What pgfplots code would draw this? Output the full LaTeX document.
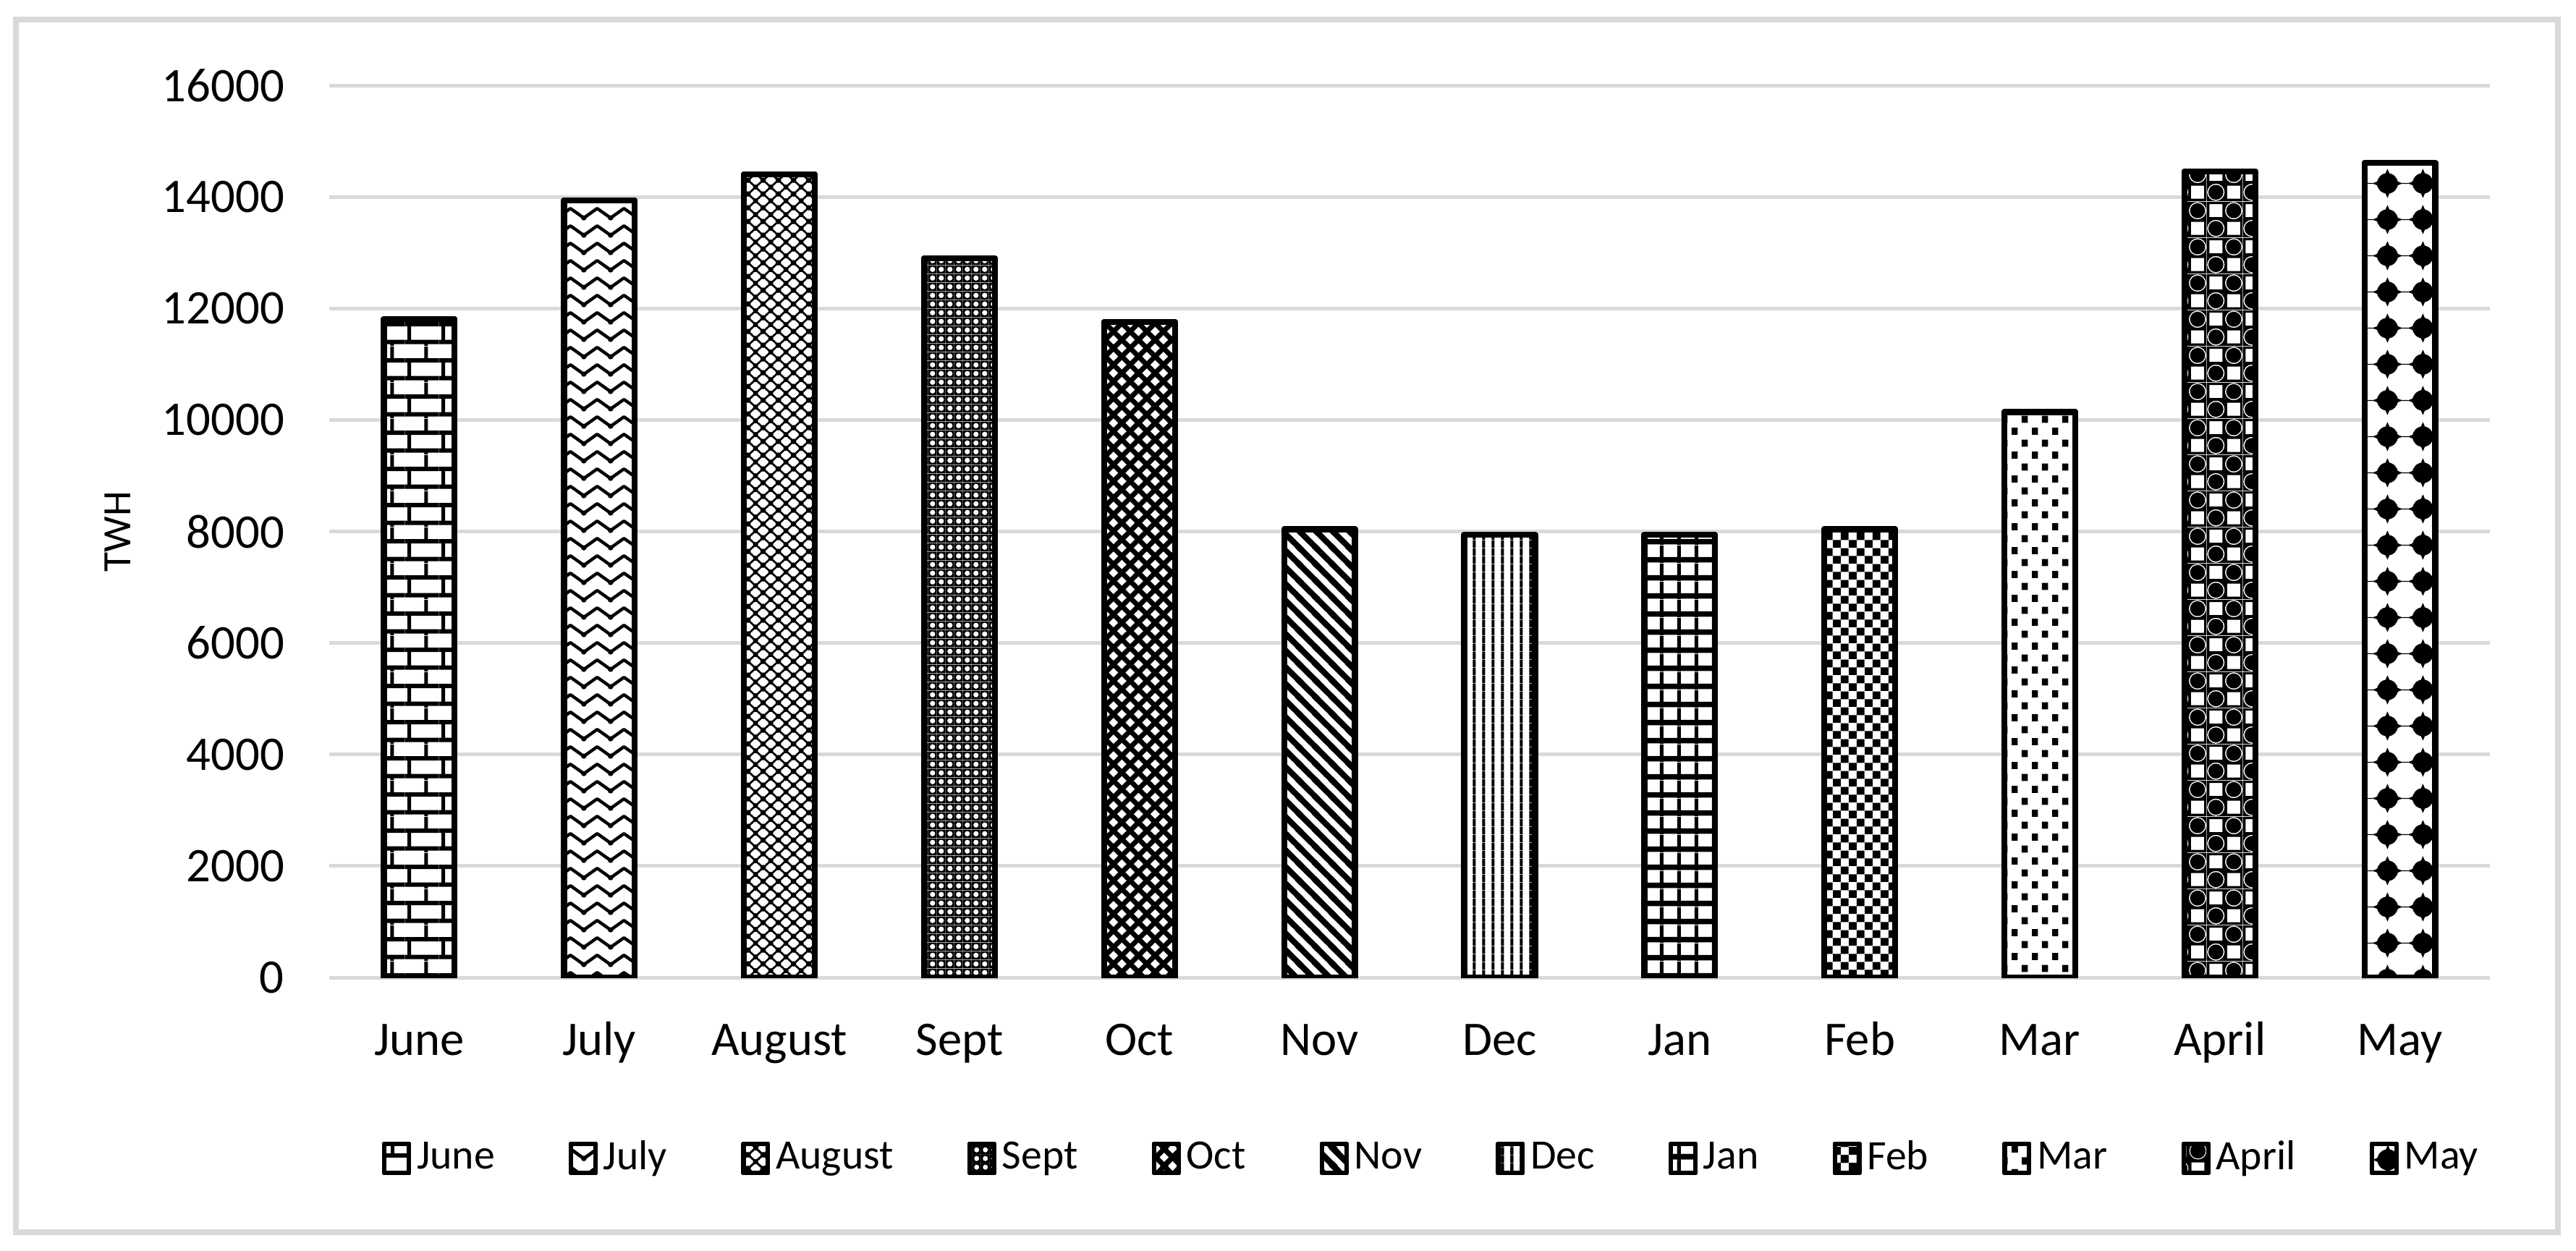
\documentclass[border=0pt]{standalone}
\usepackage{fontspec}
\setmainfont{Carlito}
\usepackage{pgfplots}
\pgfplotsset{compat=1.18}
\usetikzlibrary{patterns}
\definecolor{gridgray}{HTML}{D9D9D9}

% June: bricks
\pgfdeclarepatternformonly{xbricks}{\pgfpointorigin}{\pgfpoint{8.4pt}{9pt}}{\pgfpoint{8.4pt}{9pt}}{
 \pgfsetlinewidth{1.1pt}
 \pgfpathmoveto{\pgfpoint{0pt}{1pt}}\pgfpathlineto{\pgfpoint{8.4pt}{1pt}}
 \pgfpathmoveto{\pgfpoint{0pt}{5.5pt}}\pgfpathlineto{\pgfpoint{8.4pt}{5.5pt}}
 \pgfusepath{stroke}
 \pgfsetlinewidth{0.9pt}
 \pgfpathmoveto{\pgfpoint{1pt}{1pt}}\pgfpathlineto{\pgfpoint{1pt}{5.5pt}}
 \pgfpathmoveto{\pgfpoint{5.2pt}{5.5pt}}\pgfpathlineto{\pgfpoint{5.2pt}{9pt}}
 \pgfpathmoveto{\pgfpoint{5.2pt}{0pt}}\pgfpathlineto{\pgfpoint{5.2pt}{1pt}}
 \pgfusepath{stroke}
}
% July: waves
\pgfdeclarepatternformonly{xwaves}{\pgfpointorigin}{\pgfpoint{6.6pt}{4.4pt}}{\pgfpoint{6.6pt}{4.4pt}}{
 \pgfsetlinewidth{0.8pt}
 \pgfsetroundjoin
 \pgfpathmoveto{\pgfpoint{-3.3pt}{3.3pt}}
 \pgfpathlineto{\pgfpoint{0pt}{0.9pt}}
 \pgfpathlineto{\pgfpoint{3.3pt}{3.3pt}}
 \pgfpathlineto{\pgfpoint{6.6pt}{0.9pt}}
 \pgfpathlineto{\pgfpoint{9.9pt}{3.3pt}}
 \pgfusepath{stroke}
 \pgfpathcircle{\pgfpoint{0pt}{0.9pt}}{0.65pt}
 \pgfpathcircle{\pgfpoint{6.6pt}{0.9pt}}{0.65pt}
 \pgfusepath{fill}
}
% August: fine crosshatch with dots
\pgfdeclarepatternformonly{xaug}{\pgfpointorigin}{\pgfpoint{3.8pt}{3.4pt}}{\pgfpoint{3.8pt}{3.4pt}}{
 \pgfsetlinewidth{0.5pt}
 \pgfpathmoveto{\pgfpoint{-3.8pt}{-3.4pt}}\pgfpathlineto{\pgfpoint{7.6pt}{6.8pt}}
 \pgfpathmoveto{\pgfpoint{-3.8pt}{6.8pt}}\pgfpathlineto{\pgfpoint{7.6pt}{-3.4pt}}
 \pgfusepath{stroke}
 \pgfpathcircle{\pgfpoint{1.9pt}{1.7pt}}{0.65pt}
 \pgfpathcircle{\pgfpoint{0pt}{0pt}}{0.65pt}
 \pgfpathcircle{\pgfpoint{3.8pt}{0pt}}{0.65pt}
 \pgfpathcircle{\pgfpoint{0pt}{3.4pt}}{0.65pt}
 \pgfpathcircle{\pgfpoint{3.8pt}{3.4pt}}{0.65pt}
 \pgfusepath{fill}
}
% Sept: dense black with white dots
\pgfdeclarepatternformonly{xsep}{\pgfpointorigin}{\pgfpoint{2.2pt}{2.2pt}}{\pgfpoint{2.2pt}{2.2pt}}{
 \pgfpathrectangle{\pgfpointorigin}{\pgfpoint{2.2pt}{2.2pt}}
 \pgfpathcircle{\pgfpoint{1.1pt}{1.1pt}}{0.72pt}
 \pgfseteorule
 \pgfusepath{fill}
}
% Oct: heavy crosshatch
\pgfdeclarepatternformonly{xoct}{\pgfpointorigin}{\pgfpoint{4.2pt}{4.2pt}}{\pgfpoint{4.2pt}{4.2pt}}{
 \pgfsetlinewidth{1.25pt}
 \pgfpathmoveto{\pgfpoint{-4.2pt}{-4.2pt}}\pgfpathlineto{\pgfpoint{8.4pt}{8.4pt}}
 \pgfpathmoveto{\pgfpoint{-4.2pt}{0pt}}\pgfpathlineto{\pgfpoint{4.2pt}{8.4pt}}
 \pgfpathmoveto{\pgfpoint{0pt}{-4.2pt}}\pgfpathlineto{\pgfpoint{8.4pt}{4.2pt}}
 \pgfpathmoveto{\pgfpoint{-4.2pt}{8.4pt}}\pgfpathlineto{\pgfpoint{8.4pt}{-4.2pt}}
 \pgfpathmoveto{\pgfpoint{-4.2pt}{4.2pt}}\pgfpathlineto{\pgfpoint{4.2pt}{-4.2pt}}
 \pgfpathmoveto{\pgfpoint{0pt}{8.4pt}}\pgfpathlineto{\pgfpoint{8.4pt}{0pt}}
 \pgfusepath{stroke}
}
% Nov: wide downward diagonal
\pgfdeclarepatternformonly{xnov}{\pgfpointorigin}{\pgfpoint{4.2pt}{4.2pt}}{\pgfpoint{4.2pt}{4.2pt}}{
 \pgfsetlinewidth{1.5pt}
 \pgfpathmoveto{\pgfpoint{-4.2pt}{8.4pt}}\pgfpathlineto{\pgfpoint{8.4pt}{-4.2pt}}
 \pgfpathmoveto{\pgfpoint{-4.2pt}{4.2pt}}\pgfpathlineto{\pgfpoint{4.2pt}{-4.2pt}}
 \pgfpathmoveto{\pgfpoint{0pt}{8.4pt}}\pgfpathlineto{\pgfpoint{8.4pt}{0pt}}
 \pgfusepath{stroke}
}
% Dec: vertical lines
\pgfdeclarepatternformonly{xdec}{\pgfpointorigin}{\pgfpoint{2.3pt}{2pt}}{\pgfpoint{2.3pt}{2pt}}{
 \pgfsetlinewidth{0.75pt}
 \pgfpathmoveto{\pgfpoint{1.15pt}{0pt}}\pgfpathlineto{\pgfpoint{1.15pt}{2pt}}
 \pgfusepath{stroke}
}
% Jan: grid
\pgfdeclarepatternformonly{xjan}{\pgfpointorigin}{\pgfpoint{4.3pt}{4.5pt}}{\pgfpoint{4.3pt}{4.5pt}}{
 \pgfsetlinewidth{1.4pt}
 \pgfpathmoveto{\pgfpoint{0pt}{0.8pt}}\pgfpathlineto{\pgfpoint{4.3pt}{0.8pt}}
 \pgfusepath{stroke}
 \pgfsetlinewidth{0.9pt}
 \pgfpathmoveto{\pgfpoint{0.6pt}{0pt}}\pgfpathlineto{\pgfpoint{0.6pt}{4.5pt}}
 \pgfusepath{stroke}
}
% Feb: checkerboard
\pgfdeclarepatternformonly{xfeb}{\pgfpointorigin}{\pgfpoint{4pt}{4pt}}{\pgfpoint{4pt}{4pt}}{
 \pgfpathrectangle{\pgfpointorigin}{\pgfpoint{2pt}{2pt}}
 \pgfpathrectangle{\pgfpoint{2pt}{2pt}}{\pgfpoint{2pt}{2pt}}
 \pgfusepath{fill}
}
% Mar: dots
\pgfdeclarepatternformonly{xmar}{\pgfpointorigin}{\pgfpoint{5pt}{6pt}}{\pgfpoint{5pt}{6pt}}{
 \pgfpathrectangle{\pgfpoint{0.4pt}{0.4pt}}{\pgfpoint{1.5pt}{1.8pt}}
 \pgfpathrectangle{\pgfpoint{2.9pt}{3.4pt}}{\pgfpoint{1.5pt}{1.8pt}}
 \pgfusepath{fill}
}
% April: black with white squares and ringed circles
\pgfdeclarepatternformonly{xapr}{\pgfpointorigin}{\pgfpoint{9pt}{9pt}}{\pgfpoint{9pt}{9pt}}{
 \pgfpathrectangle{\pgfpointorigin}{\pgfpoint{9pt}{9pt}}
 \pgfpathrectangle{\pgfpoint{5.1pt}{0.6pt}}{\pgfpoint{3.3pt}{3.3pt}}
 \pgfpathrectangle{\pgfpoint{0.6pt}{5.1pt}}{\pgfpoint{3.3pt}{3.3pt}}
 \pgfpathcircle{\pgfpoint{2.25pt}{2.25pt}}{2.2pt}
 \pgfpathcircle{\pgfpoint{2.25pt}{2.25pt}}{1.9pt}
 \pgfpathcircle{\pgfpoint{6.75pt}{6.75pt}}{2.2pt}
 \pgfpathcircle{\pgfpoint{6.75pt}{6.75pt}}{1.9pt}
 \pgfseteorule
 \pgfusepath{fill}
}
% May: black four-pointed stars
\newcommand{\maystar}[1]{%
 \pgfpathmoveto{\pgfpoint{#1-3.7pt}{4.5pt}}
 \pgfpathlineto{\pgfpoint{#1-1.1pt}{5.6pt}}
 \pgfpathlineto{\pgfpoint{#1}{8.2pt}}
 \pgfpathlineto{\pgfpoint{#1+1.1pt}{5.6pt}}
 \pgfpathlineto{\pgfpoint{#1+3.7pt}{4.5pt}}
 \pgfpathlineto{\pgfpoint{#1+1.1pt}{3.4pt}}
 \pgfpathlineto{\pgfpoint{#1}{0.8pt}}
 \pgfpathlineto{\pgfpoint{#1-1.1pt}{3.4pt}}
 \pgfpathclose
 \pgfusepath{fill}
 \pgfpathcircle{\pgfpoint{#1}{4.5pt}}{2.6pt}
 \pgfusepath{fill}}
\pgfdeclarepatternformonly{xmay}{\pgfpointorigin}{\pgfpoint{8.8pt}{9pt}}{\pgfpoint{8.8pt}{9pt}}{
 \maystar{4.4pt}
 \pgfsetlinewidth{0.2pt}
 \pgfpathmoveto{\pgfpoint{0pt}{4.5pt}}\pgfpathlineto{\pgfpoint{8.8pt}{4.5pt}}
 \pgfusepath{stroke}
}

\pgfplotsset{
 mybar/.style={ybar, bar width=17.6pt, bar shift=0pt, draw=black, line width=1.5pt,
   line join=round, fill=white, postaction={pattern=#1},
   legend image code/.code={\draw[draw=black, line width=1.1pt, fill=white, postaction={pattern=#1}] (0.15pt,-3.6pt) rectangle (6.25pt,3.6pt);}}
}

\begin{document}
\begin{tikzpicture}
\useasboundingbox (0,0) rectangle (640.8pt,311.04pt);
\draw[gridgray, line width=1.4pt] (3.96pt,4.5pt) rectangle (636.3pt,306.2pt);
\begin{axis}[
 at={(81.9pt,67.86pt)}, anchor=south west,
 scale only axis, width=537.5pt, height=221.9pt,
 xmin=-0.5, xmax=11.5, ymin=0, ymax=16000,
 xtick={0,1,2,3,4,5,6,7,8,9,10,11},
 xticklabels={June,July,August,Sept,Oct,Nov,Dec,Jan,Feb,Mar,April,May},
 ytick={0,2000,4000,6000,8000,10000,12000,14000,16000},
 ymajorgrids, grid style={gridgray, line width=0.9pt},
 axis line style={draw=none},
 major tick length=0pt,
 scaled y ticks=false,
 /pgf/number format/assume math mode=true,
 yticklabel style={/pgf/number format/1000 sep={}, font=\fontsize{12}{14}\selectfont, inner sep=0pt, anchor=east, xshift=-11pt},
 xticklabel style={font=\fontsize{12}{14}\selectfont, anchor=base, inner sep=0pt, yshift=-19.3pt},
 ylabel={TWH},
 ylabel style={at={(axis description cs:-0.098,0.5)}, anchor=center, font=\fontsize{10}{12}\selectfont},
 legend columns=12,
 legend style={at={(rel axis cs:0,0)}, anchor=west, xshift=13pt, yshift=-45pt, draw=none, fill=none, inner sep=0pt,
   font=\fontsize{10.4}{12}\selectfont, nodes={inner xsep=0pt, inner ysep=1pt},
   /tikz/every odd column/.append style={column sep=1.4pt},
   /tikz/every even column/.append style={column sep=18.4pt}},
]
\addplot[mybar=xbricks] coordinates {(0,11810)}; \addlegendentry{June}
\addplot[mybar=xwaves] coordinates {(1,13940)}; \addlegendentry{July}
\addplot[mybar=xaug] coordinates {(2,14410)}; \addlegendentry{August}
\addplot[mybar=xsep] coordinates {(3,12900)}; \addlegendentry{Sept}
\addplot[mybar=xoct] coordinates {(4,11760)}; \addlegendentry{Oct}
\addplot[mybar=xnov] coordinates {(5,8040)}; \addlegendentry{Nov}
\addplot[mybar=xdec] coordinates {(6,7940)}; \addlegendentry{Dec}
\addplot[mybar=xjan] coordinates {(7,7940)}; \addlegendentry{Jan}
\addplot[mybar=xfeb] coordinates {(8,8040)}; \addlegendentry{Feb}
\addplot[mybar=xmar] coordinates {(9,10145)}; \addlegendentry{Mar}
\addplot[mybar=xapr] coordinates {(10,14460)}; \addlegendentry{April}
\addplot[mybar=xmay] coordinates {(11,14610)}; \addlegendentry{May}
\end{axis}
\end{tikzpicture}
\end{document}
